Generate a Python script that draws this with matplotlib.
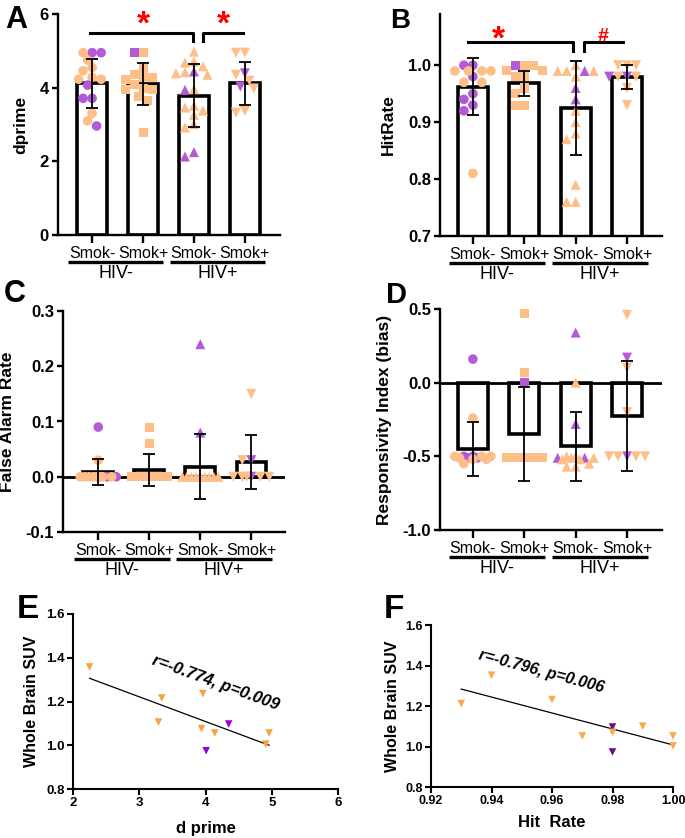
"""
Six-panel figure: bar+dot charts (A-D) and SUV correlations (E-F).
"""

import matplotlib
import matplotlib.pyplot as plt
import matplotlib.transforms as mtransforms
import numpy as np

matplotlib.use("Agg")

plt.rcParams['font.family'] = ['Liberation Sans', 'DejaVu Sans']
plt.rcParams['axes.unicode_minus'] = False

ORANGE = '#FDBE87'
PURPLE = '#B35BD6'

groups = ["Smok-", "Smok+", "Smok-", "Smok+"]
hiv_labels = ["HIV-", "HIV+"]
markers = ['o', 's', '^', 'v']

# --- A: dprime (per group values, colour code o=orange p=purple)
dprime_vals = [
    [4.95, 4.95, 4.95, 4.75, 4.55, 4.46, 4.23, 4.23, 4.28, 4.07, 3.71, 3.71, 3.30, 3.10, 2.96],
    [4.95, 4.95, 4.53, 4.27, 4.37, 4.21, 4.27, 3.98, 4.09, 3.96, 3.96, 3.76, 3.64, 2.79],
    [4.98, 4.68, 4.71, 4.58, 4.39, 4.42, 4.44, 4.35, 3.96, 3.94, 3.46, 3.51, 3.26, 3.38, 2.92, 3.01, 2.13, 2.25],
    [4.95, 4.95, 4.39, 4.35, 4.19, 3.98, 4.03, 3.32, 3.37],
]
dprime_cols = ["popoooooopppoop", "opoooooooooooo", "oooooopoopoooooopp", "oopooopoo"]
dprime_mean = [4.12, 4.10, 3.78, 4.12]
dprime_sd = [0.665, 0.565, 0.86, 0.58]

# --- B: hit rate
hit_vals = [
    [0.99, 0.99, 1.0, 1.0, 0.99, 0.98, 0.97, 0.97, 0.95, 0.94, 0.93, 0.92, 0.81, 0.99],
    [1.0, 1.0, 1.0, 0.99, 0.99, 0.98, 0.98, 0.96, 0.95, 0.93, 0.93],
    [1.0, 0.99, 0.99, 0.99, 0.99, 0.98, 0.96, 0.94, 0.92, 0.90, 0.88, 0.87, 0.79, 0.76, 0.76],
    [1.0, 1.0, 1.0, 0.98, 0.98, 0.98, 0.98, 0.96, 0.93],
]
hit_cols = ["ooppopooppppoo", "opooooooooo", "oopoooppooooooo", "ooopoopoo"]
hit_mean = [0.962, 0.968, 0.925, 0.979]
hit_sd = [0.05, 0.022, 0.082, 0.021]

# --- C: false alarm rate
fa_vals = [
    [0.09, 0.03, 0, 0, 0, 0, 0, 0, 0, 0, 0, 0, 0, 0, 0],
    [0.09, 0.06, 0, 0, 0, 0, 0, 0, 0, 0, 0, 0, 0, 0],
    [0.24, 0.08, 0, 0, 0, 0, 0, 0, 0, 0, 0, 0, 0, 0, 0],
    [0.15, 0.03, 0.03, 0, 0, 0, 0, 0, 0],
]
fa_cols = ["popopopoooooooo", "oopooooooooooo", "pppoooooooooooo", "opopooooo"]
fa_mean = [0.0085, 0.012, 0.018, 0.027]
fa_sd = [0.024, 0.029, 0.059, 0.049]

# --- D: responsivity index (bias)
rb_vals = [
    [0.16, -0.24, -0.50, -0.50, -0.51, -0.51, -0.52, -0.52, -0.50, -0.50, -0.55, -0.51, -0.50],
    [0.47, 0.07, 0.0, -0.51, -0.51, -0.51, -0.51, -0.51, -0.51, -0.51, -0.51, -0.51, -0.51],
    [0.34, 0.0, -0.28, -0.51, -0.51, -0.52, -0.52, -0.50, -0.50, -0.57, -0.57, -0.55, -0.51, -0.51],
    [0.46, 0.17, 0.10, -0.20, -0.50, -0.50, -0.50, -0.50, -0.50],
]
rb_cols = ["poppppooooooo", "oopoooooooooo", "popppooooooooo", "opoopoooo"]
rb_mean = [-0.449, -0.35, -0.433, -0.225]
rb_sd = [0.184, 0.32, 0.233, 0.374]

# --- E: d prime vs SUV
e_x = [2.25, 3.34, 3.29, 3.96, 3.94, 4.14, 4.91, 4.96, 4.35, 4.01]
e_y = [1.358, 1.216, 1.106, 1.236, 1.076, 1.056, 1.005, 1.056, 1.097, 0.975]
e_cols = "oooooooopp"

# --- F: hit rate vs SUV
f_x = [0.93, 0.94, 0.96, 0.97, 0.98, 0.98, 0.98, 0.99, 1.0, 1.0]
f_y = [1.212, 1.352, 1.232, 1.052, 1.096, 1.07, 0.973, 1.10, 1.052, 1.003]
f_cols = "oooopopooo"

W, H = 685, 838
fig = plt.figure(figsize=(W / 100, H / 100), dpi=100)


def rect(left, top, right, bottom):
    return [left / W, 1 - bottom / H, (right - left) / W, (bottom - top) / H]


def swarm_offsets(ax, x0, vals, diam, maxw):
    """Simple beeswarm in pixel space; returns x positions in data units."""
    pts = ax.transData.transform(np.column_stack([np.full(len(vals), x0), vals]))
    px0 = pts[0, 0]
    step = diam / 2.0
    nmax = int(maxw // step)
    cands = [0]
    for k in range(1, nmax + 1):
        cands += [-k * step, k * step]
    order = np.argsort(-np.asarray(vals), kind='stable')
    placed = []
    xs = np.zeros(len(vals))
    for i in order:
        py = pts[i, 1]
        best, best_d = 0, -1
        for c in cands:
            d = min([np.hypot(c - ox, py - oy) for ox, oy in placed] + [1e9])
            if d >= diam * 0.95:
                best = c
                break
            if d > best_d:
                best, best_d = c, d
        placed.append((best, py))
        xs[i] = best
    inv = ax.transData.inverted()
    return inv.transform(np.column_stack([px0 + xs, pts[:, 1]]))[:, 0]


def bar_panel(ax, vals, cols, means, sds, ylim, yticks, ylabel, xlim, zero_line=False):
    ax.set_xlim(*xlim)
    ax.set_ylim(*ylim)
    x = np.arange(len(groups))
    ax.bar(x, means, width=0.58, facecolor='white', edgecolor='black',
           linewidth=2.6, zorder=1)
    if zero_line:
        ax.axhline(0, color='black', linewidth=2.0, zorder=2)
    sizes = {'o': 48, 's': 42, '^': 52, 'v': 52}
    for i, (v, c) in enumerate(zip(vals, cols)):
        xs = swarm_offsets(ax, i, v, 9.0, 19)
        colors = [PURPLE if ch == 'p' else ORANGE for ch in c]
        ax.scatter(xs, v, marker=markers[i], s=sizes[markers[i]], c=colors,
                   linewidths=0, zorder=3, clip_on=False)
    ax.errorbar(x, means, yerr=sds, fmt='none', ecolor='black', elinewidth=1.3,
                capsize=4.5, capthick=1.3, zorder=5)
    for s in ['top', 'right']:
        ax.spines[s].set_visible(False)
    for s in ['left', 'bottom']:
        ax.spines[s].set_linewidth(1.7)
    ax.set_yticks(yticks)
    ax.set_yticklabels([f"{t:g}" if ylim[1] > 2 else f"{t:.1f}" for t in yticks],
                       fontsize=12, fontweight='bold')
    ax.tick_params(axis='y', length=4.5, width=1.7, pad=2)
    ax.set_xticks(x)
    ax.set_xticklabels(groups, fontsize=11.5)
    ax.tick_params(axis='x', length=5.8, width=1.7, pad=2)
    ax.set_ylabel(ylabel, fontsize=12.5, fontweight='bold', va='center')

    # group lines and HIV labels below the tick labels
    base = ax.get_xaxis_transform()
    tline = mtransforms.offset_copy(base, fig=fig, y=-27 * 0.72, units='points')
    ttext = mtransforms.offset_copy(base, fig=fig, y=-43 * 0.72, units='points')
    for (a, b), lab in zip([(-0.47, 1.40), (1.53, 3.40)], hiv_labels):
        ax.plot([a, b], [0, 0], transform=tline, color='black', linewidth=2.4,
                solid_capstyle='butt', clip_on=False)
        ax.text((a + b) / 2, 0, lab, transform=ttext, ha='center', va='baseline',
                fontsize=13)


def bracket(ax, x0, x1, x2, x3, y_hi, y_lo):
    ax.plot([x0, x1, x1], [y_hi, y_hi, y_lo], color='black', linewidth=2.2,
            solid_joinstyle='round', clip_on=False)
    ax.plot([x2, x2, x3], [y_lo, y_hi, y_hi], color='black', linewidth=2.2,
            solid_joinstyle='round', clip_on=False)


# A
axA = fig.add_axes(rect(58, 14, 280, 235))
bar_panel(axA, dprime_vals, dprime_cols, dprime_mean, dprime_sd, (0, 6), [0, 2, 4, 6],
          "dprime", (-0.67, 3.69))
axA.yaxis.set_label_coords(-0.167, 0.5)
bracket(axA, -0.05, 1.99, 2.17, 2.96, 5.49, 5.27)
axA.text(1.0, 5.69, "*", color='red', fontsize=24, fontweight='bold', ha='center', va='center')
axA.text(2.57, 5.69, "*", color='red', fontsize=24, fontweight='bold', ha='center', va='center')

# B
axB = fig.add_axes(rect(440, 14, 662, 236))
bar_panel(axB, hit_vals, hit_cols, hit_mean, hit_sd, (0.7, 1.09), [0.7, 0.8, 0.9, 1.0],
          "HitRate", (-0.64, 3.68))
axB.yaxis.set_label_coords(-0.234, 0.5)
bracket(axB, -0.1, 1.95, 2.16, 2.92, 1.041, 1.025)
axB.text(0.5, 1.044, "*", color='red', fontsize=24, fontweight='bold', ha='center', va='center')
axB.text(2.53, 1.051, "#", color='red', fontsize=14, fontweight='bold', ha='center', va='center')

# C
axC = fig.add_axes(rect(63, 311, 285, 532))
bar_panel(axC, fa_vals, fa_cols, fa_mean, fa_sd, (-0.1, 0.3), [-0.1, 0.0, 0.1, 0.2, 0.3],
          "False Alarm Rate", (-0.69, 3.66), zero_line=True)
axC.yaxis.set_label_coords(-0.248, 0.5)

# D
axD = fig.add_axes(rect(440, 309, 662, 530))
bar_panel(axD, rb_vals, rb_cols, rb_mean, rb_sd, (-1.0, 0.5), [-1.0, -0.5, 0.0, 0.5],
          "Responsivity Index (bias)", (-0.64, 3.68), zero_line=True)
axD.yaxis.set_label_coords(-0.248, 0.5)


def scatter_panel(ax, xs, ys, cols, orange, purple, xlim, xticks, xfmt, xlabel,
                  note, note_xy, note_rot, note_size, tick_fs):
    colors = [purple if ch == 'p' else orange for ch in cols]
    ax.scatter(xs, ys, marker='v', s=30, c=colors, linewidths=0, zorder=3, clip_on=False)
    k, b = np.polyfit(xs, ys, 1)
    lx = np.array([min(xs), max(xs)])
    ax.plot(lx, k * lx + b, color='black', linewidth=0.9, zorder=2)
    ax.set_xlim(*xlim)
    ax.set_ylim(0.8, 1.6)
    ax.set_xticks(xticks)
    ax.set_xticklabels([xfmt.format(t) for t in xticks], fontsize=tick_fs, fontweight='bold')
    ax.set_yticks([0.8, 1.0, 1.2, 1.4, 1.6])
    ax.set_yticklabels(["0.8", "1.0", "1.2", "1.4", "1.6"], fontsize=tick_fs, fontweight='bold')
    ax.tick_params(length=4, width=1.5, pad=2)
    for s in ['top', 'right']:
        ax.spines[s].set_visible(False)
    for s in ['left', 'bottom']:
        ax.spines[s].set_linewidth(1.5)
    ax.set_xlabel(xlabel, fontsize=12, fontweight='bold', va='center')
    ax.set_ylabel("Whole Brain SUV", fontsize=11.5, fontweight='bold', va='center')
    ax.text(note_xy[0], note_xy[1], note, rotation=note_rot, fontsize=note_size,
            fontweight='bold', fontstyle='italic', ha='center', va='center',
            rotation_mode='anchor')


# E
axE = fig.add_axes(rect(73, 614, 338, 789))
scatter_panel(axE, e_x, e_y, e_cols, '#F7A241', '#9A00D8', (2, 6), [2, 3, 4, 5, 6], "{:g}",
              "d prime", "r=-0.774, p=0.009", (4.15, 1.284), -20, 12, 9.5)
axE.yaxis.set_label_coords(-0.155, 0.5)
axE.xaxis.set_label_coords(0.5, -0.223)

# F
axF = fig.add_axes(rect(431, 625, 673, 787))
scatter_panel(axF, f_x, f_y, f_cols, '#F9A94B', '#6A0D91', (0.92, 1.0),
              [0.92, 0.94, 0.96, 0.98, 1.00], "{:.2f}",
              "Hit  Rate", "r=-0.796, p=0.006", (0.9566, 1.369), -15, 11.5, 9)
axF.yaxis.set_label_coords(-0.161, 0.5)
axF.xaxis.set_label_coords(0.5, -0.222)

# panel letters (baseline positions in pixels)
for lab, px, py, fs in [("A", 5, 28, 22), ("B", 390, 28, 20), ("C", 4, 302, 22),
                        ("D", 386, 303, 21), ("E", 17, 618, 24), ("F", 384, 618, 24)]:
    fig.text(px / W, 1 - py / H, lab, fontsize=fs, fontweight='bold', ha='left', va='baseline')

plt.savefig("out.png", dpi=100)
plt.close()
